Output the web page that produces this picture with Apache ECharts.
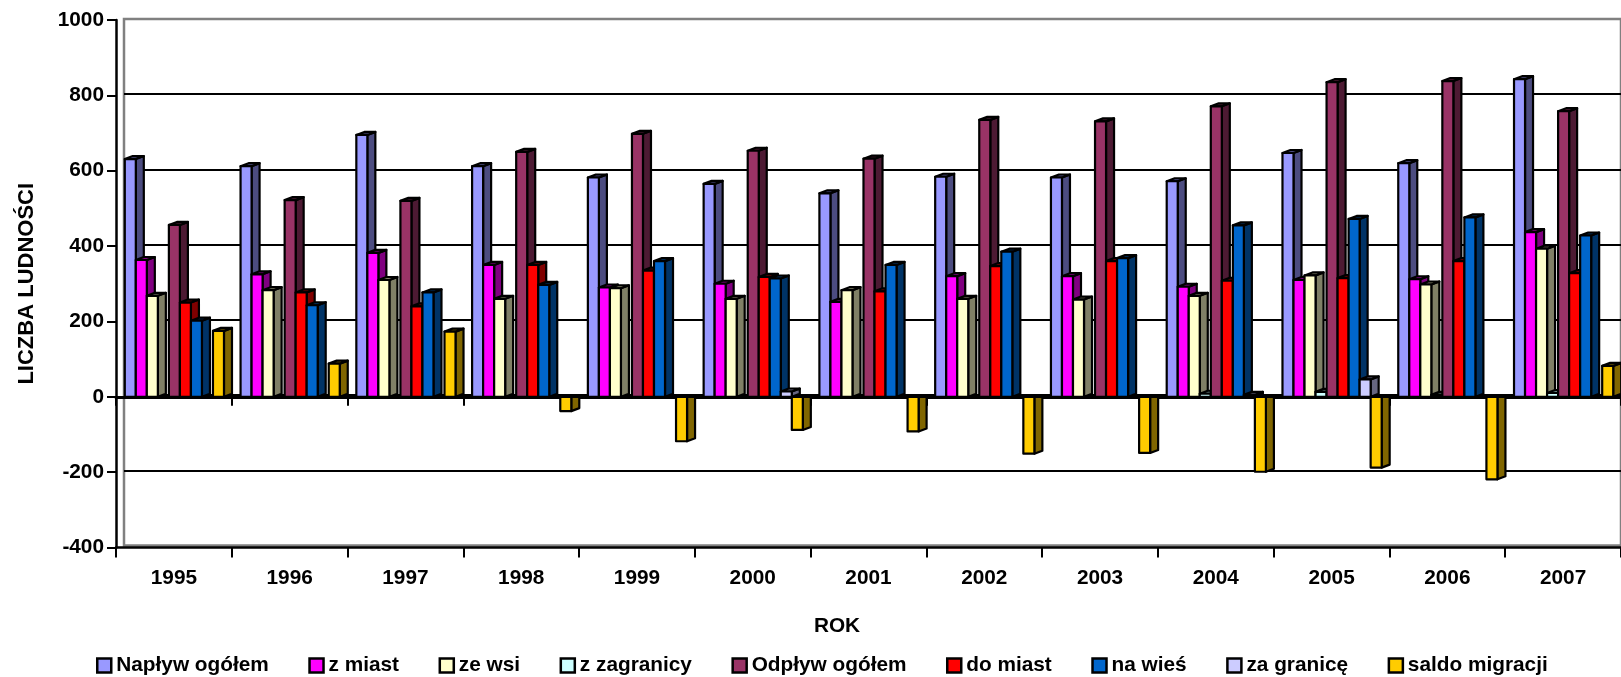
<!DOCTYPE html>
<html><head><meta charset="utf-8">
<style>html,body{margin:0;padding:0;background:#fff;overflow:hidden}#c{width:1621px;height:677px}</style>
<script src="https://cdn.jsdelivr.net/npm/echarts@6/dist/echarts.min.js"></script>
</head><body><div id="c"></div>
<script>
const years = ['1995','1996','1997','1998','1999','2000','2001','2002','2003','2004','2005','2006','2007'];
const naplyw = [631,612,695,612,582,565,540,584,582,572,647,620,843];
const zMiast = [363,325,382,350,290,300,252,320,320,292,310,312,437];
const zeWsi = [268,283,310,260,288,260,283,260,258,268,322,298,393];
const zZagranicy = [0,0,0,0,0,0,0,0,0,8,13,5,10];
const odplyw = [456,522,520,650,698,653,632,735,731,771,835,838,758];
const doMiast = [250,277,240,350,335,318,280,347,360,308,315,360,328];
const naWies = [202,243,277,297,360,314,350,385,368,455,472,476,428];
const zaGranice = [0,0,0,0,0,14,0,0,0,5,46,0,0];
const saldo = [175,88,173,-38,-118,-88,-92,-151,-149,-199,-188,-219,82];
const yTicks = {min:-400, max:1000, interval:200};
const seriesNames = ['Napływ ogółem','z miast','ze wsi','z zagranicy','Odpływ ogółem','do miast','na wieś','za granicę','saldo migracji'];
const seriesValues = [naplyw,zMiast,zeWsi,zZagranicy,odplyw,doMiast,naWies,zaGranice,saldo];
const colors = ['#9999FF','#FF00FF','#FFFFCC','#CCFFFF','#993366','#FF0000','#0066CC','#CCCCFF','#FFCC00'];
const sides = ['#4C4C80','#800080','#808066','#668080','#4D1A33','#800000','#003366','#666680','#806600'];

const font = '"Liberation Sans", Arial, sans-serif';
const fs = 20.8;
const dx = 8, dy = 3, n = seriesNames.length;
const line = {stroke:'#000', lineWidth:2.2, lineJoin:'round'};

function render(si){
  return function(params, api){
    const xv = api.value(0), v = api.value(1);
    if (v === 0) return {type:'group', children:[]};
    const p = api.coord([xv, v]), z = api.coord([xv, 0]);
    const band = api.size([1,0])[0];
    const w = band * 0.0952;
    const x0 = p[0] + 0.5 - n * w / 2 + si * w;
    const x1 = x0 + w;
    const top = Math.min(p[1], z[1]), bot = Math.max(p[1], z[1]);
    const children = [];
    if (v > 0) {
      children.push(
        {type:'polygon', shape:{points:[[x1,top],[x1+dx,top-dy],[x1+dx,bot-dy],[x1,bot]]},
         style:Object.assign({fill:sides[si]}, line)},
        {type:'polygon', shape:{points:[[x0,top],[x0+dx,top-dy],[x1+dx,top-dy],[x1,top]]},
         style:Object.assign({fill:sides[si]}, line)});
    } else {
      children.push(
        {type:'polygon', shape:{points:[[x1,top],[x1+dx,top],[x1+dx,bot-dy],[x1,bot]]},
         style:Object.assign({fill:sides[si]}, line)});
    }
    children.push({type:'rect', shape:{x:x0,y:top,width:w,height:bot-top},
       style:Object.assign({fill:colors[si]}, line)});
    return {type:'group', children};
  };
}

const chart = echarts.init(document.getElementById('c'), null, {renderer:'canvas', width:1621, height:677});
chart.setOption({
  animation:false,
  backgroundColor:'#fff',
  textStyle:{fontFamily:font},
  title:{text:'ROK', left:832, top:611, textAlign:'center',
    textStyle:{fontFamily:font, fontWeight:'bold', fontSize:fs, color:'#000'}},
  legend:{
    left:91, top:650, itemWidth:14, itemHeight:14, itemGap:39.5,
    selectedMode:false,
    textStyle:{fontFamily:font, fontWeight:'bold', fontSize:fs, color:'#000'},
    data:seriesNames.map((name,i)=>({name, icon:'rect',
      itemStyle:{color:colors[i], borderColor:'#000', borderWidth:2.5}}))
  },
  grid:[
    {left:116, right:0, top:20, height:527.5},
    {left:124, right:-10, top:19, height:526.5, show:true, borderColor:'#808080', borderWidth:2.5, backgroundColor:'transparent'}
  ],
  xAxis:[
    {type:'category', gridIndex:0, data:years, position:'bottom', boundaryGap:true,
     axisLine:{onZero:false, lineStyle:{color:'#000', width:2.5}},
     axisTick:{show:true, alignWithLabel:false, length:10, lineStyle:{color:'#000', width:2}},
     axisLabel:{show:true, fontFamily:font, fontWeight:'bold', fontSize:fs, color:'#000', margin:20},
     splitLine:{show:false}},
    {type:'category', gridIndex:0, data:years, position:'bottom', boundaryGap:true,
     axisLine:{onZero:true, onZeroAxisIndex:0, lineStyle:{color:'#000', width:3}},
     axisTick:{show:true, length:9, lineStyle:{color:'#000', width:2}},
     axisLabel:{show:false}, splitLine:{show:false}},
    {type:'category', gridIndex:1, data:years, show:false}
  ],
  yAxis:[
    {type:'value', gridIndex:0, min:yTicks.min, max:yTicks.max, interval:yTicks.interval,
     name:'LICZBA LUDNOŚCI', nameLocation:'middle', nameGap:78, nameRotate:90,
     nameTextStyle:{fontFamily:font, fontWeight:'bold', fontSize:22, color:'#000'},
     axisLine:{show:true, onZero:false, lineStyle:{color:'#000', width:2.5}},
     axisTick:{show:true, length:9, lineStyle:{color:'#000', width:2}},
     axisLabel:{fontFamily:font, fontWeight:'bold', fontSize:fs, color:'#000', margin:12, formatter:v=>String(v)},
     splitLine:{show:false}},
    {type:'value', gridIndex:1, min:yTicks.min, max:yTicks.max, interval:yTicks.interval,
     axisLine:{show:false}, axisTick:{show:false}, axisLabel:{show:false},
     splitLine:{show:true, showMinLine:false, showMaxLine:false, lineStyle:{color:'#000', width:2.2, type:'solid'}}}
  ],
  series:seriesNames.map((name,si)=>({
    type:'custom', name, xAxisIndex:0, yAxisIndex:0, clip:false, z:5,
    itemStyle:{color:colors[si]},
    encode:{x:0,y:1},
    renderItem:render(si),
    data:seriesValues[si].map((v,i)=>[i,v])
  }))
});
</script></body></html>
